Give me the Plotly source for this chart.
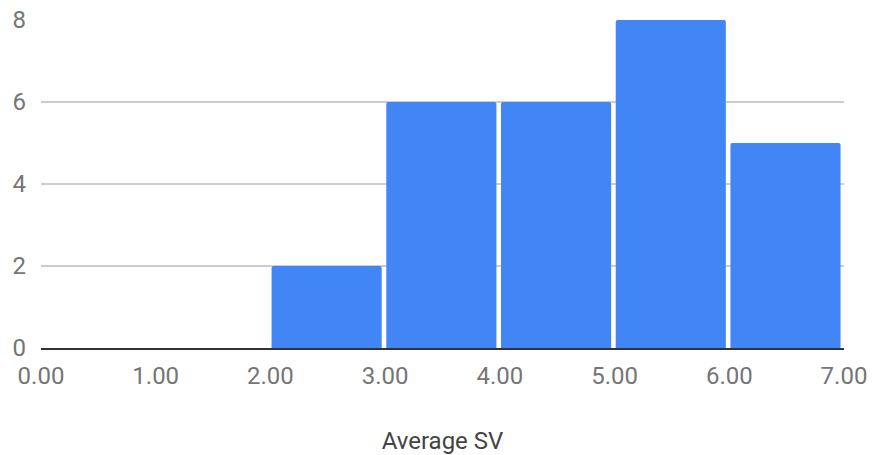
import plotly.graph_objects as go

# Histogram of average SV: bin left edges and counts per 1.00-wide bin
bin_starts = [0.0, 1.0, 2.0, 3.0, 4.0, 5.0, 6.0]
counts = [0, 0, 2, 6, 6, 8, 5]
x_ticks = [0, 1, 2, 3, 4, 5, 6, 7]
x_tick_labels = ["0.00", "1.00", "2.00", "3.00", "4.00", "5.00", "6.00", "7.00"]
y_ticks = [0, 2, 4, 6, 8]

fig = go.Figure(
    go.Bar(
        x=bin_starts,
        y=counts,
        offset=0.01,
        width=0.96,
        marker=dict(color="#4285F4", line=dict(width=0)),
        hoverinfo="skip",
    )
)

fig.update_layout(
    width=874,
    height=455,
    margin=dict(l=41, r=30, t=20, b=107),
    paper_bgcolor="white",
    plot_bgcolor="white",
    showlegend=False,
    barcornerradius=2,
    font=dict(family="Roboto", size=24, color="#757575"),
)

fig.update_xaxes(
    range=[0, 7],
    tickvals=x_ticks,
    ticktext=x_tick_labels,
    showgrid=False,
    zeroline=False,
    showline=True,
    linecolor="#333333",
    linewidth=2,
    ticks="",
    automargin=False,
    ticklabelstandoff=5,
    tickfont=dict(size=24, color="#757575"),
    title=dict(text="Average SV", font=dict(size=24, color="#444444"), standoff=44),
)

fig.update_yaxes(
    range=[0, 8],
    tickvals=y_ticks,
    showgrid=True,
    gridcolor="#cccccc",
    gridwidth=2,
    zeroline=False,
    showline=False,
    ticks="",
    automargin=False,
    ticklabelstandoff=14,
    tickfont=dict(size=24, color="#757575"),
)

fig.write_html("out.html")
